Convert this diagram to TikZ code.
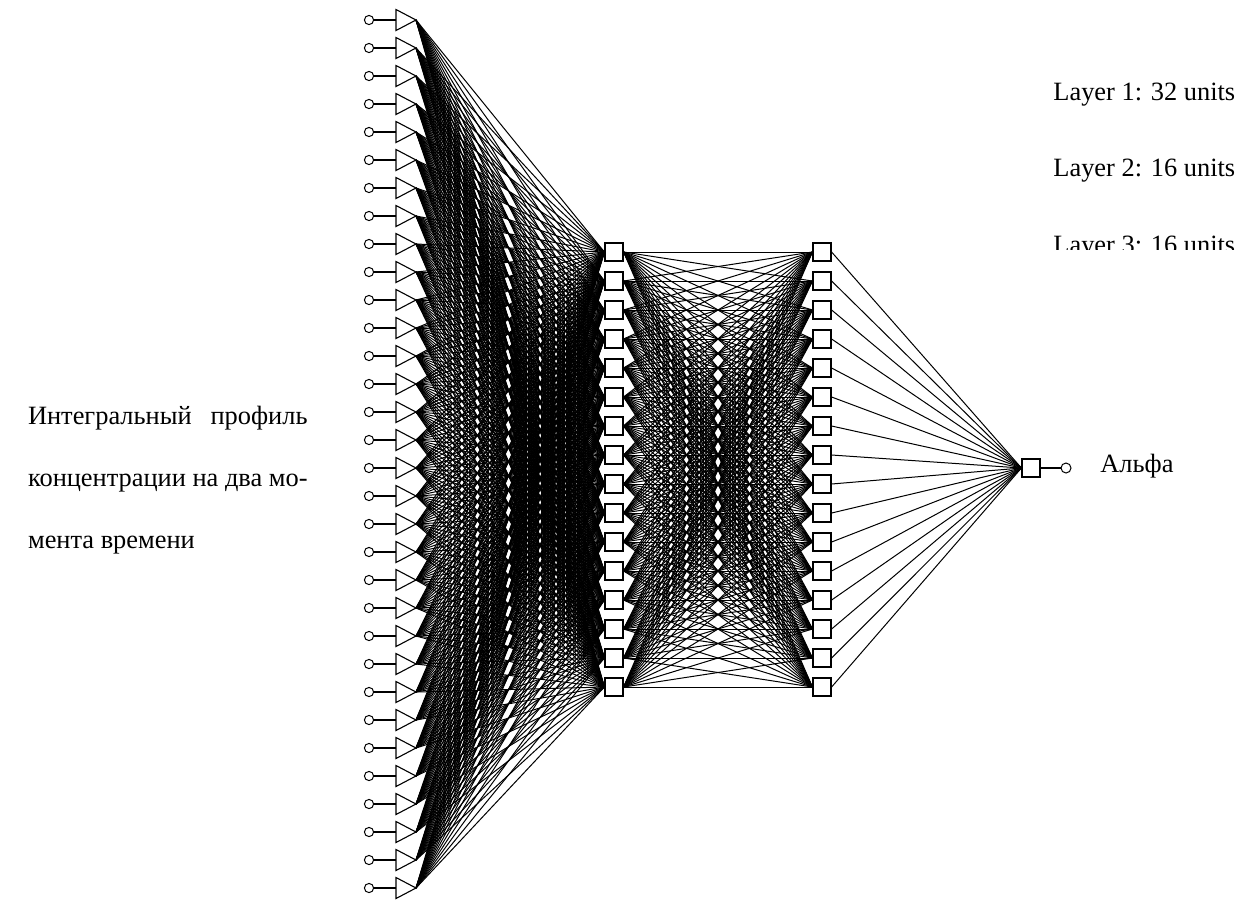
\documentclass[tikz,border=0pt]{standalone}
\usepackage{fontspec}
\setmainfont{Liberation Serif}
\usetikzlibrary{positioning}
\pgfdeclarelayer{edges}
\pgfsetlayers{edges,main}
\newlength\profw

\tikzset{
  unit/.style={draw, fill=white, line width=0.6pt, minimum size=9pt, inner sep=0pt},
  pin/.style={draw, fill=white, circle, line width=0.5pt, minimum size=4.6pt, inner sep=0pt},
  wire/.style={line width=0.5pt},
  lbl/.style={inner sep=0pt, font=\fontsize{13.2}{16}\selectfont},
}

\begin{document}
\begin{tikzpicture}[x=0.5pt, y=-0.5pt]
  \useasboundingbox (0,0) rectangle (1241,923);
  % layer 1: 32 inputs
  \foreach \i in {0,...,31}{
    \pgfmathsetmacro{\yy}{20+28*\i}
    \node[pin] (p\i) at (369,\yy) {};
    \coordinate (b\i) at (396,\yy);
    \coordinate (t\i) at (416,\yy);
    \draw[line width=0.55pt] (p\i) -- (b\i);
    \draw[line width=0.55pt, fill=white] (396,\yy-10.5) -- (t\i) -- (396,\yy+10.5) -- cycle;
  }
  % layers 2 and 3
  \foreach \j in {0,...,15}{
    \pgfmathsetmacro{\yy}{252+29*\j}
    \node[unit] (h\j) at (614,\yy) {};
    \node[unit] (g\j) at (822,\yy) {};
  }
  % output
  \node[unit] (out) at (1031,468) {};
  \node[pin, minimum size=5pt] (alpha) at (1066,468) {};
  \draw[line width=0.55pt] (out) -- (alpha);
  % connections
  \begin{pgfonlayer}{edges}
    \foreach \i in {0,...,31}
      \foreach \j in {0,...,15}
        \draw[wire] (t\i) -- (h\j.west);
    \foreach \j in {0,...,15}
      \foreach \k in {0,...,15}
        \draw[wire] (h\j.east) -- (g\k.west);
    \foreach \k in {0,...,15}
      \draw[wire] (g\k.east) -- (out.west);
  \end{pgfonlayer}
  % labels
  \node[lbl, anchor=base west] (l1) at (1053,100) {Layer 1: 32 units};
  \node[lbl, anchor=base west] (l2) at (1053,176) {Layer 2: 16 units};
  \begin{scope}
    \clip (1000,200) rectangle (1241,249);
    \node[lbl, anchor=base west] (l3) at (1053,253) {Layer 3: 16 units};
  \end{scope}
  \node[lbl, anchor=base west] (name) at (1100,472) {Альфа};
  \node[lbl, anchor=base east] (profile) at (308,424) {\settowidth{\profw}{концентрации на два мо-}%
    \parbox[t]{\profw}{\baselineskip=31pt Интегральный\hfill профиль\\ концентрации на два мо-\\ мента времени}};
\end{tikzpicture}
\end{document}
